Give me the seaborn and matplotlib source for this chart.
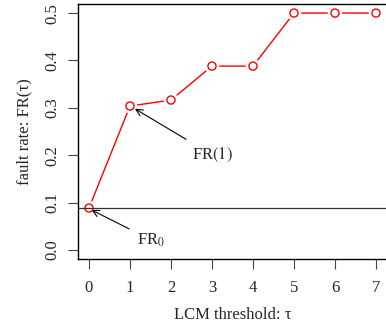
import matplotlib
matplotlib.use("Agg")
import matplotlib.pyplot as plt
import numpy as np
import pandas as pd
import seaborn as sns

sns.set_theme(style="white")
plt.rcParams["font.family"] = ["Liberation Serif", "DejaVu Serif"]
plt.rcParams["mathtext.fontset"] = "stix"

# data
thresholds = [0, 1, 2, 3, 4, 5, 6, 7]
fault_rate = [0.0886, 0.3038, 0.3165, 0.3881, 0.3881, 0.5, 0.5, 0.5]
fr0 = 0.0886
yticks = [0.0, 0.1, 0.2, 0.3, 0.4, 0.5]

df = pd.DataFrame({"tau": thresholds, "fr": fault_rate})

fig = plt.figure(figsize=(3.86, 3.26), dpi=100)
ax = fig.add_axes([0.2008, 0.204, 0.803, 0.785])

sns.lineplot(data=df, x="tau", y="fr", color="red", lw=1.0, ax=ax, zorder=2)
# white discs give the gaps between line and points (R type="b")
sns.scatterplot(data=df, x="tau", y="fr", s=110, color="white",
                edgecolor="none", ax=ax, zorder=3)
sns.scatterplot(data=df, x="tau", y="fr", s=34, facecolor="none",
                edgecolor="red", linewidth=1.0, marker="o", ax=ax, zorder=4)
ax.axhline(fr0, color="#333333", lw=0.9, zorder=5)

ax.set_xlim(-0.28, 7.28)
ax.set_ylim(-0.02, 0.52)
ax.set_xticks(thresholds)
ax.set_yticks(yticks)
ax.set_yticklabels([f"{v:.1f}" for v in yticks], rotation=90, va="center")
ax.tick_params(axis="both", direction="out", length=7, width=0.8,
               labelsize=12, color="#444444", pad=8, left=True, bottom=True)
ax.tick_params(axis="y", pad=5)

for side in ["left", "bottom", "top"]:
    ax.spines[side].set_color("black")
    ax.spines[side].set_linewidth(1.0)
ax.spines["right"].set_visible(False)

ax.set_xlabel("LCM threshold: τ", fontsize=12, labelpad=8)
ax.set_ylabel("fault rate: FR(τ)", fontsize=12, labelpad=9)

ax.annotate(r"FR$_0$", xy=(0.06, fr0 - 0.004), xytext=(1.18, 0.021),
            fontsize=12, va="center", ha="left",
            arrowprops=dict(arrowstyle="->", color="black", lw=0.8,
                            shrinkA=4, shrinkB=0))
ax.annotate(r"FR$(1)$", xy=(1.12, 0.298), xytext=(2.52, 0.2),
            fontsize=12, va="center", ha="left",
            arrowprops=dict(arrowstyle="->", color="black", lw=0.8,
                            shrinkA=5, shrinkB=0))

fig.savefig("out.png", dpi=100)
